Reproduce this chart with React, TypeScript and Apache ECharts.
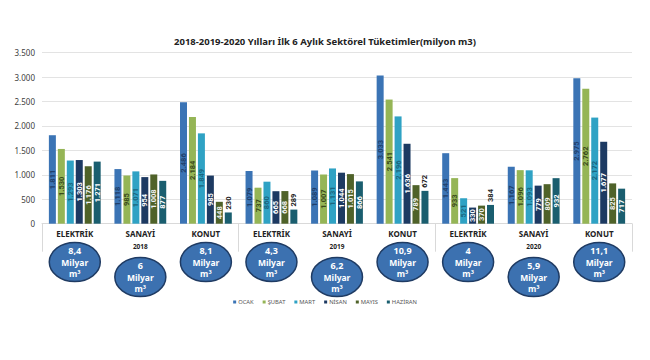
import React, { useEffect, useRef } from "react";
import * as echarts from "echarts";

const categories = [
  "ELEKTRİK|2018", "SANAYİ|2018", "KONUT|2018",
  "ELEKTRİK|2019", "SANAYİ|2019", "KONUT|2019",
  "ELEKTRİK|2020", "SANAYİ|2020", "KONUT|2020",
];
const years = ["2018", "2019", "2020"];
const months = ["OCAK", "ŞUBAT", "MART", "NİSAN", "MAYIS", "HAZİRAN"];

const ocak = [1811, 1118, 2486, 1079, 1089, 3033, 1443, 1167, 2975];
const subat = [1530, 985, 2184, 737, 1007, 2541, 933, 1096, 2762];
const mart = [1293, 1071, 1849, 860, 1131, 2196, 521, 1093, 2172];
const nisan = [1303, 954, 985, 665, 1044, 1636, 330, 779, 1677];
const mayis = [1176, 1008, 448, 668, 1015, 789, 370, 809, 825];
const haziran = [1271, 877, 230, 289, 866, 672, 384, 932, 717];

const totals = ["8,4", "6", "8,1", "4,3", "6,2", "10,9", "4", "5,9", "11,1"];
const yTicks = [0, 500, 1000, 1500, 2000, 2500, 3000, 3500];

const seriesValues = [ocak, subat, mart, nisan, mayis, haziran];
const colors = ["#3b74b5", "#95b556", "#2fa2c4", "#1d3a62", "#4f6229", "#1a5e6f"];
const labelColors = ["#1f3f6b", "#3a4a1b", "#1b6680", "#ffffff", "#f2f2f2", "#ffffff"];

const fmt = (v: number) => {
  const s = String(Math.round(v));
  return s.replace(/\B(?=(\d{3})+(?!\d))/g, ".");
};

export default function App() {
  const ref = useRef<HTMLDivElement>(null);
  useEffect(() => {
    document.body.style.margin = "0";
    if (!ref.current) return;
    const chart = echarts.init(ref.current, null, { renderer: "svg" });
    const series: any[] = seriesValues.map((vals, si) => ({
      name: months[si],
      type: "bar",
      xAxisIndex: 0,
      yAxisIndex: 0,
      barWidth: 7,
      barGap: "28%",
      itemStyle: { color: colors[si] },
      data: vals.map((v) => {
        const small = si === 5 && v < 700;
        return {
          value: v,
          label: small
            ? {
                show: true,
                position: "top",
                rotate: 90,
                align: "left",
                verticalAlign: "middle",
                distance: 3,
                color: "#222222",
              }
            : undefined,
        };
      }),
      label: {
        show: true,
        position: "inside",
        rotate: 90,
        fontSize: 7.5,
        fontWeight: "bold",
        fontFamily: "Roboto",
        color: labelColors[si],
        formatter: (p: any) => fmt(p.value),
      },
    }));

    chart.setOption({
      animation: false,
      title: {
        text: "2018-2019-2020 Yılları İlk 6 Aylık Sektörel Tüketimler(milyon m3)",
        left: "center",
        top: 31,
        textStyle: { fontSize: 9.5, fontWeight: "bold", color: "#222", fontFamily: "Noto Sans" },
      },
      legend: {
        data: months,
        bottom: 50,
        left: "center",
        itemWidth: 3,
        itemHeight: 3,
        itemGap: 9,
        icon: "rect",
        textStyle: { fontSize: 5.8, color: "#555", fontFamily: "Noto Sans", padding: [0, 0, 0, -3] },
      },
      grid: { left: 42, right: 18, top: 52.7, bottom: 136.3 },
      xAxis: [
        {
          type: "category",
          data: categories,
          axisLine: { show: true, lineStyle: { color: "#d9d9d9" } },
          axisTick: { show: false },
          axisLabel: {
            interval: 0,
            margin: 6,
            fontSize: 8,
            fontWeight: "bold",
            color: "#222",
            fontFamily: "Noto Sans",
            formatter: (v: string) => v.split("|")[0],
          },
        },
        {
          type: "category",
          data: years,
          position: "bottom",
          axisLine: { show: false },
          axisTick: { show: true, length: 28, lineStyle: { color: "#d9d9d9" } },
          axisLabel: {
            margin: 19,
            fontSize: 6.5,
            fontWeight: "bold",
            color: "#222",
            fontFamily: "Noto Sans",
          },
          splitLine: { show: false },
        },
      ],
      yAxis: {
        type: "value",
        min: 0,
        max: yTicks[yTicks.length - 1],
        interval: 500,
        axisLine: { show: false },
        axisTick: { show: false },
        axisLabel: {
          margin: 7,
          fontSize: 8,
          color: "#404040",
          fontFamily: "Noto Sans",
          formatter: (v: number) => fmt(v),
        },
        splitLine: { lineStyle: { color: "#e3e3e3" } },
      },
      series,
    });

    const lineStyle = (text: string, size: number) => ({
      text,
      fill: "#fff",
      fontSize: size,
      fontWeight: "bold",
      fontFamily: "Noto Sans",
      align: "center",
      verticalAlign: "middle",
    });

    const graphics: any[] = categories.map((c, i) => {
      const px = chart.convertToPixel({ xAxisIndex: 0 }, c) as number;
      const isSanayi = i % 3 === 1;
      const cy = isSanayi ? 277 : 262;
      return {
        type: "group",
        x: px,
        y: cy,
        children: [
          {
            type: "ellipse",
            shape: { cx: 0, cy: 0, rx: 25.5, ry: 19.5 },
            style: { fill: "#3c71b0", stroke: "#1f3b63", lineWidth: 1.5 },
          },
          { type: "text", x: 0, y: -11.5, style: lineStyle(totals[i], 9) },
          { type: "text", x: 0, y: 0, style: lineStyle("Milyar", 8.5) },
          { type: "text", x: 0, y: 11.5, style: lineStyle("m³", 8.5) },
        ],
      };
    });
    chart.setOption({ graphic: graphics });

    return () => chart.dispose();
  }, []);
  return (
    <div
      ref={ref}
      style={{ width: 650, height: 360, position: "fixed", left: 0, top: 0, background: "#fff" }}
    />
  );
}
